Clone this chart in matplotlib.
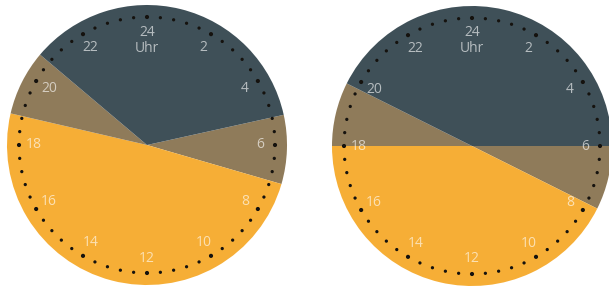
import numpy as np
import matplotlib.pyplot as plt

# times in hours: twilight start, sunrise, sunset, twilight end
clock_names = ["links", "rechts"]
dawn = [5.17, 6.0]
sunrise = [7.08, 7.77]
sunset = [18.87, 18.0]
dusk = [20.68, 19.77]

hour_labels = ["24", "2", "4", "6", "8", "10", "12", "14", "16", "18", "20", "22"]
hour_values = [0, 2, 4, 6, 8, 10, 12, 14, 16, 18, 20, 22]

col_night = "#3f5058"
col_twilight = "#8f7b5a"
col_day = "#f6ae36"

W, H = 609, 288
centers = [(147, 143), (472, 142)]
R = 140


def clock_xy(cx, cy, r, hours):
    ang = np.deg2rad(90 - 15 * np.asarray(hours, dtype=float))
    return cx + r * np.cos(ang), cy + r * np.sin(ang)


fig = plt.figure(figsize=(W / 100, H / 100), dpi=100)
ax = fig.add_axes([0, 0, 1, 1])

for i in range(2):
    cx, cy = centers[i]
    sizes = [sunrise[i] - dawn[i], sunset[i] - sunrise[i],
             dusk[i] - sunset[i], 24 - dusk[i] + dawn[i]]
    ax.pie(sizes, colors=[col_twilight, col_day, col_twilight, col_night],
           startangle=90 - 15 * dawn[i], counterclock=False,
           center=(cx, cy), radius=R,
           wedgeprops=dict(linewidth=0, antialiased=True))

    # minute dots
    marks = np.arange(60) * 24 / 60
    mx, my = clock_xy(cx, cy, 128, marks)
    sizes_dots = [9 if k % 5 == 0 else 5.5 for k in range(60)]
    ax.scatter(mx, my, s=sizes_dots, color="#15120e", zorder=3, linewidths=0)

    # hour labels
    lx, ly = clock_xy(cx, cy, 113, hour_values)
    for lab, x, y in zip(hour_labels, lx, ly):
        ax.text(x, y, lab, ha="center", va="center", fontsize=10,
                family="Open Sans", color="white", alpha=0.62, zorder=4)
    ax.text(cx, cy + 113 - 16, "Uhr", ha="center", va="center", fontsize=10,
            family="Open Sans", color="white", alpha=0.62, zorder=4)

ax.set_xlim(0, W)
ax.set_ylim(0, H)
ax.set_aspect("equal")
ax.axis("off")

fig.savefig("out.png", dpi=100)
